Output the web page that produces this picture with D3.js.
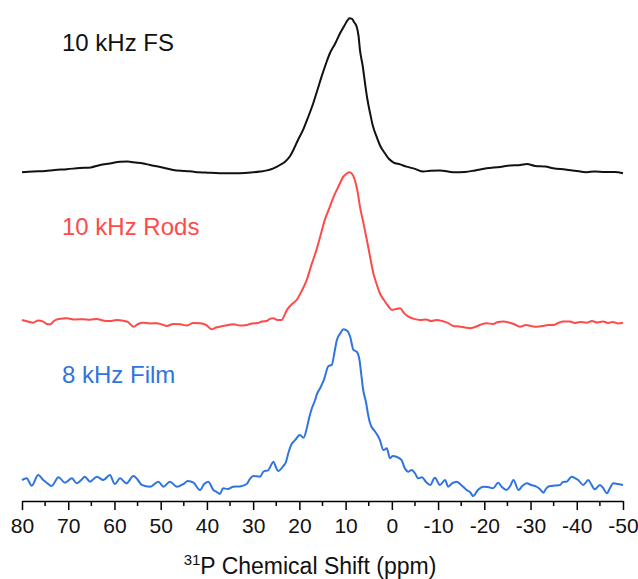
<!DOCTYPE html>
<html>
<head>
<meta charset="utf-8">
<script src="https://cdn.jsdelivr.net/npm/d3@7"></script>
<style>
  body { margin: 0; background: #fff; }
  svg { font-family: Arial, 'Liberation Sans', sans-serif; }
</style>
</head>
<body>
<div id="chart"></div>
<script>
// 31P spectra, intensity normalised to ~1 at the peak
const fsPpm = [80.0, 77.6, 75.0, 72.9, 70.3, 67.5, 65.1, 63.1, 61.0, 58.8, 57.1, 55.9, 53.8, 52.3, 50.1, 47.3, 44.7, 42.6, 40.0, 37.2, 34.3, 31.8, 28.5, 27.0, 25.6, 24.2, 23.1, 22.0, 21.3, 20.3, 19.2, 18.1, 17.0, 16.1, 15.2, 14.2, 13.4, 12.3, 11.2, 10.3, 9.6, 9.2, 8.6, 8.2, 7.6, 7.2, 6.9, 6.3, 5.8, 5.3, 4.7, 4.1, 3.3, 2.5, 1.5, 0.6, -0.3, -1.8, -3.2, -5.0, -6.8, -8.3, -10.4, -13.3, -15.8, -18.0, -20.5, -23.4, -25.6, -27.8, -29.2, -31.0, -33.2, -34.9, -37.5, -39.6, -42.1, -43.9, -46.1, -48.2, -50.0]
const fsInt = [0.005, 0.01, 0.013, 0.02, 0.025, 0.033, 0.037, 0.053, 0.063, 0.075, 0.077, 0.071, 0.063, 0.053, 0.04, 0.02, 0.013, 0.007, 0.002, -0.002, -0.002, 0, 0.009, 0.017, 0.031, 0.053, 0.075, 0.113, 0.153, 0.22, 0.287, 0.373, 0.465, 0.553, 0.642, 0.733, 0.798, 0.86, 0.931, 0.98, 1.017, 1.031, 1.027, 1.007, 0.975, 0.913, 0.82, 0.713, 0.598, 0.493, 0.398, 0.313, 0.242, 0.18, 0.131, 0.093, 0.071, 0.057, 0.042, 0.027, 0.009, 0.015, 0.017, 0.005, 0.007, 0.017, 0.031, 0.04, 0.05, 0.053, 0.06, 0.047, 0.043, 0.031, 0.023, 0.015, 0.005, 0.01, 0.007, 0.007, -0.002]

const rodsPpm = [80.0, 78.7, 77.6, 76.5, 75.4, 74.6, 73.9, 73.1, 72.1, 70.3, 68.5, 66.7, 65.3, 63.8, 62.5, 61.0, 59.5, 58.1, 57.1, 55.9, 54.9, 53.8, 52.3, 50.9, 49.7, 48.7, 47.3, 45.8, 44.3, 43.0, 41.5, 40.2, 39.0, 38.0, 37.2, 35.9, 34.3, 32.8, 31.4, 30.2, 28.9, 28.1, 27.1, 26.4, 25.6, 24.8, 23.8, 23.3, 22.7, 21.8, 20.6, 19.6, 18.4, 17.4, 16.3, 15.5, 14.5, 13.4, 12.6, 11.9, 11.2, 10.5, 9.9, 9.2, 8.6, 8.0, 7.4, 6.9, 6.2, 5.4, 4.7, 4.0, 3.3, 2.6, 1.7, 0.8, 0.0, -0.9, -1.8, -2.6, -3.6, -4.8, -6.1, -7.4, -8.5, -9.7, -10.9, -12.1, -13.3, -14.5, -15.8, -16.9, -18.0, -19.3, -20.5, -21.9, -23.0, -24.1, -25.3, -26.4, -27.7, -29.0, -30.1, -31.3, -32.7, -33.8, -34.9, -36.0, -37.0, -38.5, -39.6, -40.7, -42.1, -43.3, -44.4, -45.7, -46.8, -47.8, -48.9, -50.0]
const rodsInt = [0.02, 0.01, 0.002, 0.017, 0.009, -0.007, -0.009, 0.013, 0.027, 0.031, 0.023, 0.025, 0.021, 0.027, 0.017, 0.013, 0.02, 0.015, 0.007, -0.025, -0.007, 0.002, -0.003, -0.002, -0.01, -0.02, -0.007, -0.009, -0.017, 0, -0.002, -0.013, -0.042, -0.03, -0.025, -0.017, -0.009, -0.017, -0.013, -0.003, 0, 0.01, 0.013, 0.027, 0.031, 0.02, 0.02, 0.047, 0.087, 0.12, 0.153, 0.207, 0.287, 0.387, 0.487, 0.575, 0.687, 0.775, 0.84, 0.887, 0.933, 0.975, 0.993, 1.005, 0.993, 0.953, 0.873, 0.775, 0.673, 0.553, 0.44, 0.331, 0.26, 0.198, 0.153, 0.113, 0.087, 0.093, 0.098, 0.067, 0.042, 0.027, 0.02, 0.023, 0.013, 0.02, 0.013, 0, -0.02, -0.023, -0.03, -0.035, -0.027, -0.01, -0.002, -0.007, 0.007, 0.009, 0.003, -0.007, -0.025, -0.013, -0.02, -0.025, -0.02, -0.013, -0.013, 0, 0.01, 0.009, 0, 0.007, 0.002, 0.013, 0.003, 0.009, 0, 0.007, -0.003, 0.002]

const filmPpm = [80.0, 79.0, 77.9, 76.5, 75.4, 74.6, 73.6, 72.1, 70.7, 69.2, 68.2, 67.2, 66.4, 65.3, 63.8, 62.4, 61.0, 59.9, 58.8, 57.4, 55.9, 55.1, 54.1, 52.3, 50.5, 49.4, 48.0, 46.5, 45.1, 44.1, 42.9, 41.5, 40.6, 39.7, 38.6, 38.0, 37.2, 36.5, 35.5, 34.3, 32.9, 31.4, 30.7, 30.0, 28.5, 27.8, 26.7, 25.6, 25.1, 24.6, 23.5, 22.9, 22.4, 21.8, 20.9, 19.9, 19.1, 18.4, 17.9, 17.3, 16.6, 16.2, 15.5, 14.7, 13.7, 13.0, 12.4, 11.9, 11.1, 10.5, 9.6, 9.0, 8.3, 7.6, 7.0, 6.6, 6.2, 5.6, 5.2, 4.7, 4.4, 3.6, 3.0, 2.6, 1.8, 1.1, 0.4, -0.2, -1.0, -2.1, -2.8, -3.6, -4.3, -5.0, -5.7, -6.5, -7.4, -8.3, -9.3, -10.4, -11.5, -12.2, -13.0, -14.0, -15.0, -16.2, -16.9, -17.6, -18.6, -19.8, -20.8, -21.9, -23.0, -23.8, -24.8, -25.6, -26.3, -27.4, -28.2, -29.2, -30.1, -31.3, -32.0, -32.8, -33.3, -34.2, -35.3, -36.4, -37.0, -37.8, -38.9, -39.6, -40.3, -41.4, -42.5, -43.1, -43.9, -45.0, -45.7, -46.5, -47.2, -47.9, -48.9, -50.0]
const filmInt = [0.02, 0.031, -0.018, 0.053, 0.02, 0, -0.02, 0.038, 0.002, 0.031, -0.002, 0.02, 0.042, 0.009, 0.042, 0.02, 0.053, -0.007, 0.031, -0.002, 0.047, 0.027, -0.013, -0.025, 0.009, -0.025, 0.009, -0.025, -0.007, 0.013, 0.002, -0.047, -0.007, 0.009, -0.047, -0.057, -0.073, -0.035, -0.04, -0.025, -0.023, -0.007, 0.027, 0.047, 0.042, 0.075, 0.087, 0.142, 0.107, 0.08, 0.113, 0.14, 0.198, 0.253, 0.287, 0.32, 0.302, 0.365, 0.433, 0.498, 0.553, 0.593, 0.633, 0.687, 0.78, 0.787, 0.873, 0.953, 1.0, 1.025, 1.013, 0.973, 0.887, 0.875, 0.82, 0.72, 0.62, 0.54, 0.467, 0.398, 0.375, 0.342, 0.313, 0.287, 0.22, 0.231, 0.165, 0.18, 0.175, 0.153, 0.098, 0.075, 0.087, 0.065, 0.031, 0.038, 0.007, -0.013, 0.035, -0.013, 0.02, -0.025, -0.003, 0.009, -0.013, -0.047, -0.06, -0.087, -0.047, -0.025, -0.027, -0.035, 0.002, -0.027, -0.047, -0.02, 0.02, -0.047, -0.02, -0.002, -0.013, -0.025, -0.04, -0.065, -0.04, -0.02, -0.017, -0.013, 0.007, 0.009, 0.042, 0.033, 0.02, -0.013, 0.02, -0.007, -0.042, -0.013, -0.033, -0.069, -0.033, -0.002, -0.007, -0.013]

const labels = ['10 kHz FS', '10 kHz Rods', '8 kHz Film']
const offsets = [2.067, 1.067, 0]
const colors = ['#111111', '#ff4a4a', '#2f74e0']
const majorTicks = [80, 70, 60, 50, 40, 30, 20, 10, 0, -10, -20, -30, -40, -50]
const minorTicks = [75, 65, 55, 45, 35, 25, 15, 5, -5, -15, -25, -35, -45]

const width = 638, height = 579
const x = d3.scaleLinear().domain([80, -50]).range([22, 623])
const y = d3.scaleLinear().domain([0, 1]).range([483, 333])

const series = [
  {ppm: fsPpm, val: fsInt},
  {ppm: rodsPpm, val: rodsInt},
  {ppm: filmPpm, val: filmInt}
]

const svg = d3.select('#chart').append('svg')
  .attr('width', width)
  .attr('height', height)

const line = off => d3.line()
  .x(d => x(d[0]))
  .y(d => y(d[1] + off))
  .curve(d3.curveMonotoneX)

series.forEach((s, i) => {
  const pts = s.ppm.map((p, j) => [p, s.val[j]])
  svg.append('path')
    .datum(pts)
    .attr('fill', 'none')
    .attr('stroke', colors[i])
    .attr('stroke-width', 2)
    .attr('stroke-linejoin', 'round')
    .attr('d', line(offsets[i]))
})

const labelY = [51, 235, 383]
svg.selectAll('.lbl')
  .data(labels)
  .enter().append('text')
  .attr('class', 'lbl')
  .attr('x', 62)
  .attr('y', (d, i) => labelY[i])
  .attr('fill', (d, i) => colors[i])
  .style('font-size', '24px')
  .text(d => d)

// x axis
const axisY = 501
const gx = svg.append('g')
  .attr('transform', `translate(0, ${axisY})`)
  .call(d3.axisBottom(x)
    .tickValues(majorTicks)
    .tickFormat(d => String(d))
    .tickSizeInner(9)
    .tickSizeOuter(0)
    .tickPadding(8))
gx.select('.domain').attr('stroke', '#000').attr('stroke-width', 1.5)
gx.selectAll('.tick line').attr('stroke', '#000').attr('stroke-width', 1.5)
gx.selectAll('.tick text')
  .attr('fill', '#111')
  .style('font-size', '21px')
  .style('font-family', "Arial, 'Liberation Sans', sans-serif")

svg.append('g')
  .selectAll('line')
  .data(minorTicks)
  .enter().append('line')
  .attr('x1', d => x(d))
  .attr('x2', d => x(d))
  .attr('y1', axisY)
  .attr('y2', axisY + 5)
  .attr('stroke', '#000')
  .attr('stroke-width', 1.5)

const title = svg.append('text')
  .attr('x', 310)
  .attr('y', 574)
  .attr('text-anchor', 'middle')
  .attr('fill', '#111')
  .style('font-size', '23px')
title.append('tspan')
  .attr('dy', -9)
  .style('font-size', '15px')
  .text('31')
title.append('tspan')
  .attr('dy', 9)
  .text('P Chemical Shift (ppm)')
</script>
</body>
</html>
